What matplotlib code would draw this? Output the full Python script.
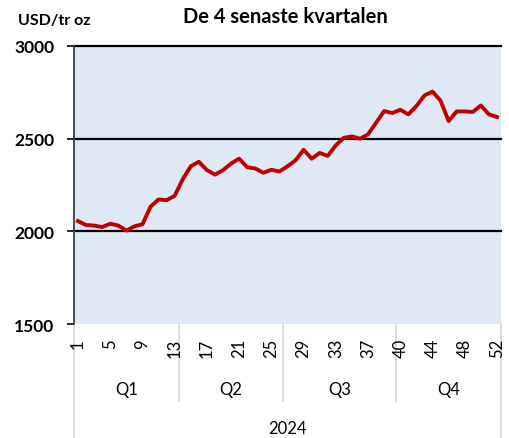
import numpy as np
import matplotlib
matplotlib.use('Agg')
import matplotlib.pyplot as plt
import matplotlib.transforms as mtransforms

plt.rcParams['font.family'] = ['Lato', 'DejaVu Sans']

# veckonummer (53 kategorier, Q3 har en extra vecka)
weeks = list(range(1, 37)) + [37, 38, 39, 39] + list(range(40, 53))
quarters = ['Q1', 'Q2', 'Q3', 'Q4']
quarter_sizes = [13, 13, 14, 13]
year_label = '2024'

# USD/tr oz
price = [2055, 2034, 2031, 2023, 2041, 2031, 2004, 2027, 2038, 2133,
         2172, 2168, 2192, 2281, 2351, 2375, 2330, 2306, 2330, 2366,
         2392, 2346, 2339, 2316, 2332, 2323, 2351, 2383, 2440, 2392,
         2423, 2407, 2464, 2505, 2512, 2500, 2523, 2586, 2649, 2638,
         2656, 2631, 2676, 2733, 2754, 2705, 2595, 2647, 2647, 2644,
         2679, 2631, 2617]

yticks = [1500, 2000, 2500, 3000]

fig = plt.figure(figsize=(5.10, 4.39), dpi=100)
ax = fig.add_axes([74/510, 1 - 325/439, 427/510, 278/439])
ax.set_facecolor('#DEE9F5')

x = np.arange(len(price))
for g in yticks[1:]:
    ax.axhline(g, color='black', lw=1.6, zorder=1, clip_on=False)
ax.plot(x, price, color='#C00000', lw=2.8, zorder=3, solid_joinstyle='round')

ax.set_xlim(-0.5, len(price) - 0.5)
ax.set_ylim(1500, 3000)
ax.set_yticks(yticks)
ax.set_yticklabels([str(v) for v in yticks], fontsize=12.5, fontweight='bold')
ax.tick_params(axis='y', length=5, width=1.2, color='black', pad=9)

for s in ['top', 'right', 'bottom']:
    ax.spines[s].set_visible(False)
ax.spines['left'].set_color('#404040')
ax.spines['left'].set_linewidth(1.3)

tick_idx = list(range(0, len(price), 4))
ax.set_xticks(tick_idx)
ax.set_xticklabels([str(weeks[i]) for i in tick_idx], rotation=90, fontsize=12)
ax.tick_params(axis='x', length=0, pad=10)

# kvartalsgränser och etiketter
trans = mtransforms.blended_transform_factory(ax.transData, ax.transAxes)
px = 1 / 278
bounds = np.concatenate([[0], np.cumsum(quarter_sizes)]) - 0.5
for i, b in enumerate(bounds):
    y_end = -114 * px if i in (0, len(bounds) - 1) else -77 * px
    ax.plot([b, b], [0, y_end], color='#D9D9D9', lw=1.3, transform=trans,
            clip_on=False, zorder=0)
for q, a, b in zip(quarters, bounds[:-1], bounds[1:]):
    ax.text((a + b) / 2, -65 * px, q, transform=trans, ha='center', va='center',
            fontsize=12)
ax.text((bounds[0] + bounds[-1]) / 2, -104 * px, year_label, transform=trans,
        ha='center', va='center', fontsize=12)

fig.text(285/510, 1 - 17/439, 'De 4 senaste kvartalen', ha='center', va='center',
         fontsize=14.5, fontweight='bold')
fig.text(18/510, 1 - 21/439, 'USD/tr oz', ha='left', va='center',
         fontsize=11.5, fontweight='bold')

fig.savefig('out.png', dpi=100)
